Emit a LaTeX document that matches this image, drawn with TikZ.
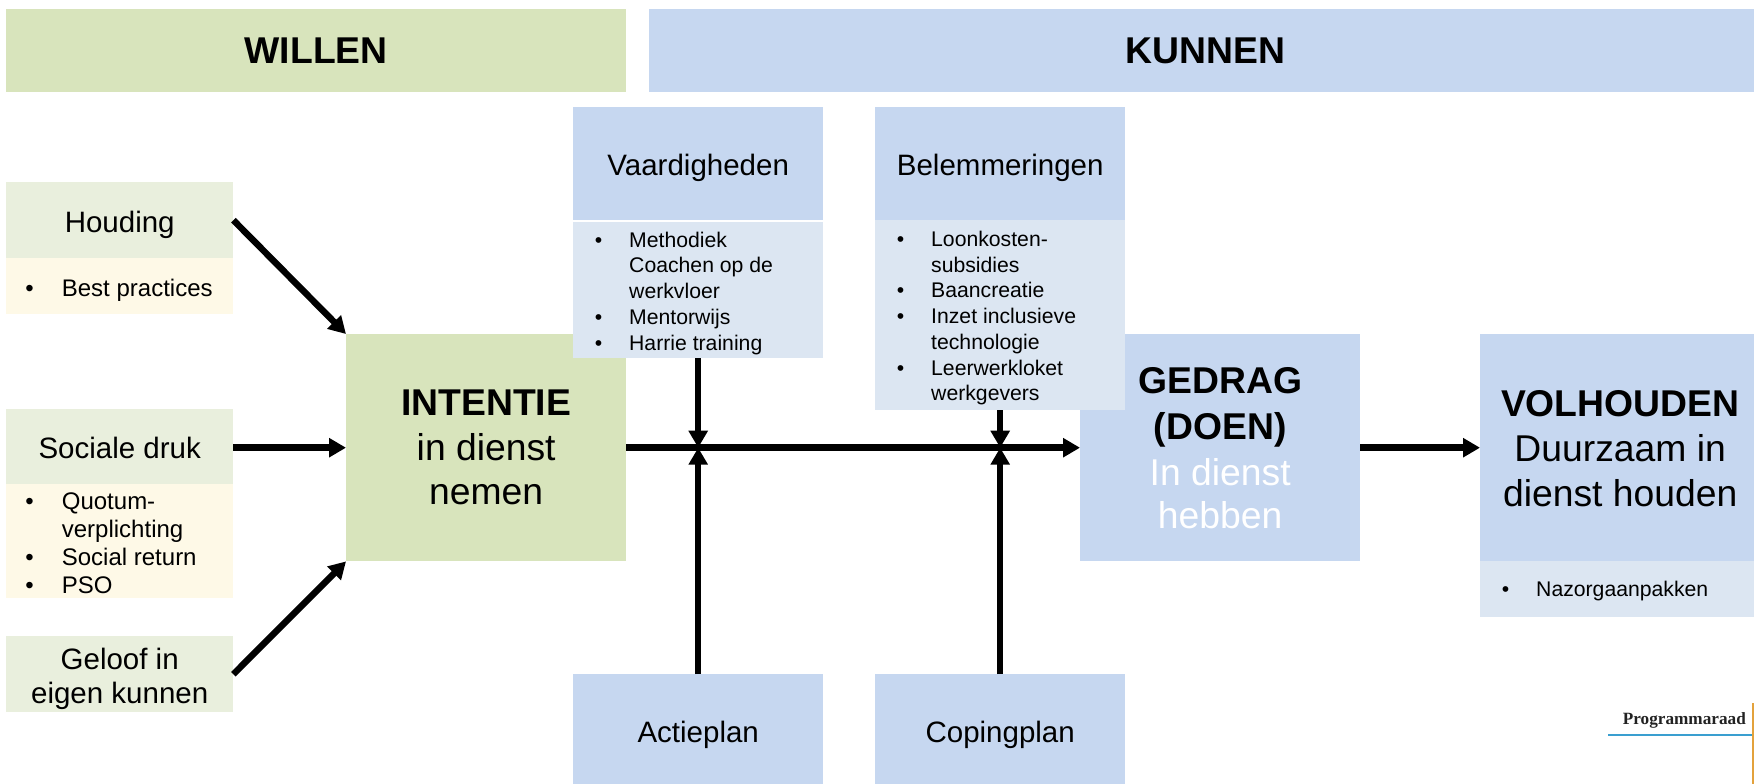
\documentclass[tikz,border=0pt]{standalone}
\usepackage{fontspec}
\setmainfont{Liberation Sans}
\newfontfamily\logofont{Liberation Serif}
\usetikzlibrary{arrows.meta}
\definecolor{wgreen}{HTML}{D8E4BC}
\definecolor{kblue}{HTML}{C6D7F0}
\definecolor{lgreen}{HTML}{E9EFDD}
\definecolor{cream}{HTML}{FEF9E7}
\definecolor{lblue}{HTML}{DCE6F2}
\definecolor{logoblue}{HTML}{3A9FD0}
\definecolor{logoorange}{HTML}{E3A23C}
\definecolor{logotext}{HTML}{222222}
\newcommand\bi{\makebox[36.5pt][l]{•}}
\newcommand\ci{\hspace*{36.5pt}}
\newcommand\bis{\makebox[34.3pt][l]{•}}
\newcommand\cis{\hspace*{34.3pt}}
\newcommand\dn[2]{\raisebox{-#1pt}[\height][\depth]{#2}}
\tikzset{
 box/.style={rectangle,anchor=north west,inner sep=0pt,align=center},
 head/.style={box,fill=kblue,font=\fontsize{29.5}{34}\selectfont},
 lefthead/.style={box,fill=lgreen,font=\fontsize{29.5}{34}\selectfont,minimum width=227pt},
 titlebox/.style={box,font=\fontsize{37.3}{44}\selectfont\bfseries,minimum height=83pt},
 bigbox/.style={box,font=\fontsize{37.3}{44.6}\selectfont,minimum height=227pt,minimum width=#1},
 lefttext/.style={anchor=west,inner sep=0pt,align=left,font=\fontsize{24}{28}\selectfont},
 smalltext/.style={anchor=west,inner sep=0pt,align=left,font=\fontsize{21.2}{25.7}\selectfont},
 conn/.style={line width=6.5pt,-{Triangle[length=17pt,width=18.5pt]}},
}
\begin{document}
\begin{tikzpicture}[x=1pt,y=-1pt]
\useasboundingbox (0,0) rectangle (1754,784);
% titles
\node[titlebox,fill=wgreen,minimum width=620pt] (willen) at (6,9) {WILLEN};
\node[titlebox,fill=kblue,minimum width=1105pt] (kunnen) at (649,9) {\hspace*{8pt}KUNNEN};
% left column
\node[lefthead,minimum height=76pt] (houding) at (6,182) {\dn{4.5}{Houding}};
\node[box,fill=cream,minimum width=227pt,minimum height=56pt] (hbody) at (6,258) {};
\node[lefttext] (htext) at (25.2,290) {\bi Best practices};
\node[lefthead,minimum height=75pt] (sociale) at (6,409) {\dn{1.5}{Sociale druk}};
\node[box,fill=cream,minimum width=227pt,minimum height=114pt] (sbody) at (6,484) {};
\node[lefttext] (stext) at (25.2,543) {\bi Quotum-\\\ci verplichting\\\bi Social return\\\bi PSO};
\node[lefthead,minimum height=76pt] (geloof) at (6,636) {\dn{4.5}{Geloof in}\\\dn{4.5}{eigen kunnen}};
% main boxes
\node[bigbox=280pt,fill=wgreen] (intentie) at (346,334) {\textbf{INTENTIE}\\in dienst\\nemen};
\node[bigbox=280pt,fill=kblue] (gedrag) at (1080,334) {\textbf{GEDRAG}\\\dn{1.5}{\textbf{(DOEN)}}\\\dn{2.5}{\textcolor{white}{In dienst}}\\\dn{1.5}{\textcolor{white}{hebben}}};
\node[bigbox=274pt,fill=kblue] (volhouden) at (1480,334) {\dn{1}{\hspace*{6pt}\textbf{VOLHOUDEN}}\\\dn{1}{\hspace*{6pt}Duurzaam in}\\\dn{1}{\hspace*{6pt}dienst houden}};
\node[box,fill=lblue,minimum width=274pt,minimum height=56pt] (vbody) at (1480,561) {};
\node[smalltext] (vtext) at (1501.7,591.5) {\bis Nazorgaanpakken};
% upper middle
\node[head,minimum width=250pt,minimum height=113pt] (vaard) at (573,107) {\dn{4.5}{Vaardigheden}};
\node[box,fill=lblue,minimum width=250pt,minimum height=136pt] (vaardbody) at (573,222) {};
\node[smalltext] (vaardtext) at (594.7,293.2) {\bis Methodiek\\\cis Coachen op de\\\cis werkvloer\\\bis Mentorwijs\\\bis Harrie training};
\node[head,minimum width=250pt,minimum height=113pt] (belem) at (875,107) {\dn{4.5}{Belemmeringen}};
\node[box,fill=lblue,minimum width=250pt,minimum height=190pt] (belembody) at (875,220) {};
\node[smalltext] (belemtext) at (896.7,318.2) {\bis Loonkosten-\\\cis subsidies\\\bis Baancreatie\\\bis Inzet inclusieve\\\cis technologie\\\bis Leerwerkloket\\\cis werkgevers};
% lower middle
\node[head,minimum width=250pt,minimum height=110pt] (actie) at (573,674) {\dn{5.5}{Actieplan}};
\node[head,minimum width=250pt,minimum height=110pt] (coping) at (875,674) {\dn{5.5}{Copingplan}};
% connectors
\coordinate (c1) at (vaardbody.south |- intentie.east);
\coordinate (c2) at (belembody.south |- intentie.east);
\draw[conn] (houding.east) -- (intentie.north west);
\draw[conn] (sociale.east |- intentie.west) -- (intentie.west);
\draw[conn] (geloof.east) -- (intentie.south west);
\draw[conn] (intentie.east) -- (gedrag.west);
\draw[conn] (gedrag.east) -- (volhouden.west);
\draw[conn] (vaardbody.south) -- (c1);
\draw[conn] (actie.north) -- (c1);
\draw[conn] (belembody.south) -- (c2);
\draw[conn] (coping.north) -- (c2);
% logo
\node[anchor=base east,inner sep=0pt,text=logotext,font=\logofont\fontsize{17.2}{20}\selectfont\bfseries] (logo) at (1746,724) {Programmaraad};
\coordinate (lineL) at (1608,735);
\coordinate (lineR) at (1754,735);
\draw[color=logoblue,line width=1.8pt] (lineL) -- (lineR);
\coordinate (oT) at (1753,703);
\coordinate (oB) at (1753,784);
\draw[color=logoorange,line width=1.8pt] (oT) -- (oB);
\end{tikzpicture}
\end{document}
